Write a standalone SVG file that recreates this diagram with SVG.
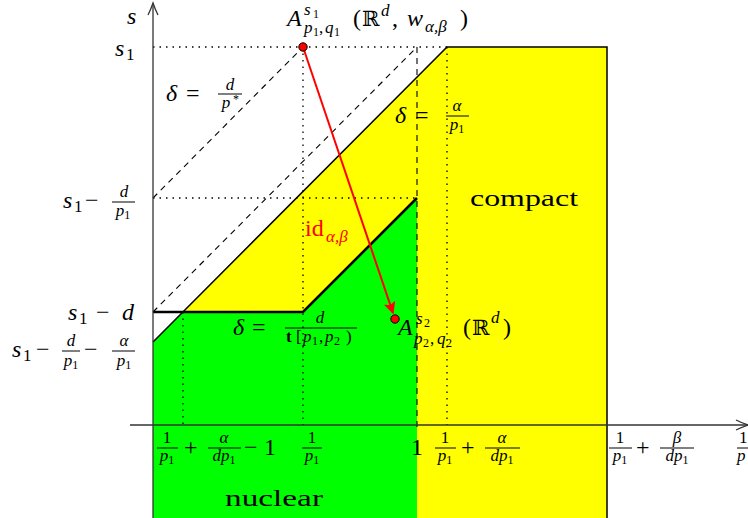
<svg xmlns="http://www.w3.org/2000/svg" width="748" height="518" viewBox="0 0 748 518">
<style>
text{font-family:"Liberation Serif","DejaVu Serif",serif;font-size:24px;fill:#000}
.i{font-style:italic}
.s{font-size:17px}
.t{font-size:12px}
.bb{font-family:"DejaVu Serif",serif;font-size:21px}
.red{fill:#f00}
.dot{stroke:#000;stroke-width:1.3;stroke-dasharray:1.5 5;fill:none}
.dash{stroke:#000;stroke-width:1.1;stroke-dasharray:6 5;fill:none}
.fr{stroke:#000;stroke-width:1}
.ax{stroke:#333;stroke-width:1.3;fill:none}
</style>
<defs>
<marker id="ah" viewBox="0 0 10 10" refX="9" refY="5" markerWidth="7" markerHeight="6" orient="auto" markerUnits="strokeWidth">
<path d="M0,0 L10,5 L0,10 L2,5 z" fill="#f00"/>
</marker>
</defs>
<rect width="748" height="518" fill="#fff"/>
<g id="regions">
<polygon points="153,342 447,47 607,47 607,518 153,518" fill="#ff0"/>
<polygon points="153,342 183,312 303,312 417,198 417,518 153,518" fill="#0f0"/>
</g>
<g id="connectors">
<polyline points="153,342 447,47 607,47 607,518" fill="none" stroke="#000" stroke-width="1.5"/>
<polyline points="153,312 303,312 417,198" fill="none" stroke="#000" stroke-width="2.6"/>
<line class="dash" x1="153" y1="312" x2="417" y2="47"/>
<line class="dash" x1="153" y1="198" x2="303" y2="47"/>
<line class="dash" x1="417" y1="47" x2="417" y2="430"/>
<line class="dot" x1="153" y1="47" x2="447" y2="47"/>
<line class="dot" x1="153" y1="198" x2="417" y2="198"/>
<line class="dot" x1="303" y1="47" x2="303" y2="425"/>
<line class="dot" x1="183" y1="312" x2="183" y2="425"/>
<line class="dot" x1="447" y1="47" x2="447" y2="425"/>
<line class="ax" x1="153" y1="518" x2="153" y2="3"/>
<path class="ax" d="M148,15 Q151,9 153,3 Q155,9 158,15"/>
<line class="ax" x1="130" y1="425" x2="748" y2="425"/>
<path class="ax" d="M736,420 Q742,423 748,425 Q742,427 736,430"/>
<line x1="303" y1="47" x2="393" y2="313" stroke="#f00" stroke-width="2" marker-end="url(#ah)"/>
</g>
<g id="pointA1"><circle cx="303" cy="47" r="4.2" fill="#f00" stroke="#000" stroke-width="1"/></g>
<g id="pointA2"><circle cx="395" cy="319" r="4.2" fill="#f00" stroke="#000" stroke-width="1"/></g>

<g id="label-s"><text class="i" x="127" y="24">s</text></g>
<g id="label-s1"><text class="i" x="115" y="56">s</text><text x="126" y="60" class="s">1</text></g>

<g id="label-A1">
<text class="i" x="287" y="26" font-size="26">A</text>
<text class="i s" x="304" y="15">s</text><text class="t" x="313" y="18">1</text>
<text class="i s" x="304" y="33">p</text><text class="t" x="313" y="36">1</text><text class="s" x="319" y="33">,</text>
<text class="i s" x="325" y="33">q</text><text class="t" x="334" y="36">1</text>
<text x="353" y="26">(</text><text class="bb" x="362" y="26">ℝ</text>
<text class="i s" x="381" y="16">d</text>
<text x="392" y="26">,</text>
<text class="i" x="407" y="26">w</text>
<text class="i s" x="425" y="32">α,β</text>
<text x="460" y="26">)</text>
</g>

<g id="label-delta-pstar">
<text class="i" x="166" y="101">δ</text><text x="186" y="101">=</text>
<line class="fr" x1="218" y1="94" x2="242" y2="94"/>
<text class="i s" x="230" y="90" text-anchor="middle">d</text>
<text class="i s" x="226" y="108" text-anchor="middle">p</text><text class="t" x="233" y="103">*</text>
</g>

<g id="label-delta-alpha">
<text class="i" x="395" y="123">δ</text><text x="415" y="123">=</text>
<line class="fr" x1="446" y1="116" x2="469" y2="116"/>
<text class="i s" x="457" y="111" text-anchor="middle">α</text>
<text x="457" y="130" text-anchor="middle"><tspan class="i s">p</tspan><tspan class="t" dy="3">1</tspan></text>
</g>

<g id="label-s1-d-p1">
<text class="i" x="63" y="208">s</text><text class="s" x="74" y="212">1</text>
<text x="85" y="208">−</text>
<line class="fr" x1="112" y1="202" x2="135" y2="202"/>
<text class="i s" x="124" y="197" text-anchor="middle">d</text>
<text x="123" y="216" text-anchor="middle"><tspan class="i s">p</tspan><tspan class="t" dy="3">1</tspan></text>
</g>

<g id="label-s1-d">
<text class="i" x="68" y="320">s</text><text class="s" x="79" y="324">1</text>
<text x="96" y="320">−</text>
<text class="i" x="122" y="320">d</text>
</g>

<g id="label-s1-d-p1-a-p1">
<text class="i" x="12" y="357">s</text><text class="s" x="23" y="361">1</text>
<text x="36" y="357">−</text>
<line class="fr" x1="62" y1="351" x2="80" y2="351"/>
<text class="i s" x="71" y="346" text-anchor="middle">d</text>
<text x="71" y="366" text-anchor="middle"><tspan class="i s">p</tspan><tspan class="t" dy="3">1</tspan></text>
<text x="84" y="357">−</text>
<line class="fr" x1="112" y1="351" x2="135" y2="351"/>
<text class="i s" x="124" y="346" text-anchor="middle">α</text>
<text x="124" y="366" text-anchor="middle"><tspan class="i s">p</tspan><tspan class="t" dy="3">1</tspan></text>
</g>

<g id="label-compact"><text x="470" y="206" font-size="27" textLength="108" lengthAdjust="spacingAndGlyphs">compact</text></g>
<g id="label-nuclear"><text x="225" y="506" font-size="27" textLength="98" lengthAdjust="spacingAndGlyphs">nuclear</text></g>

<g id="label-id">
<text class="red" x="305" y="236">id</text>
<text class="i s red" x="326" y="242">α,β</text>
</g>

<g id="label-delta-t">
<text class="i" x="233" y="335">δ</text><text x="252" y="335">=</text>
<line class="fr" x1="285" y1="328" x2="357" y2="328"/>
<text class="i s" x="320" y="323" text-anchor="middle">d</text>
<text class="s" x="286" y="342" font-weight="bold">t</text>
<text class="s" x="296" y="342">[</text>
<text class="i s" x="303" y="342">p</text><text class="t" x="312" y="345">1</text>
<text class="s" x="319" y="342">,</text>
<text class="i s" x="325" y="342">p</text><text class="t" x="334" y="345">2</text>
<text class="s" x="346" y="342">)</text>
</g>

<g id="label-A2">
<text class="i" x="398" y="335" font-size="26">A</text>
<text class="i s" x="416" y="324">s</text><text class="t" x="424" y="327">2</text>
<text class="i s" x="414" y="344">p</text><text class="t" x="423" y="347">2</text><text class="s" x="430" y="344">,</text>
<text class="i s" x="437" y="344">q</text><text class="t" x="446" y="347">2</text>
<text x="463" y="335">(</text><text class="bb" x="472" y="335">ℝ</text>
<text class="i s" x="491" y="323">d</text>
<text x="503" y="335">)</text>
</g>

<g id="xlabels">
<line class="fr" x1="157" y1="448" x2="178" y2="448"/>
<text class="s" x="167" y="443" text-anchor="middle">1</text>
<text x="167" y="461" text-anchor="middle"><tspan class="i s">p</tspan><tspan class="t" dy="3">1</tspan></text>
<text x="184" y="455">+</text>
<line class="fr" x1="208" y1="448" x2="241" y2="448"/>
<text class="i s" x="224" y="443" text-anchor="middle">α</text>
<text x="224" y="461" text-anchor="middle"><tspan class="i s">dp</tspan><tspan class="t" dy="3">1</tspan></text>
<text x="244" y="455">−</text><text x="264" y="455">1</text>

<line class="fr" x1="302" y1="448" x2="322" y2="448"/>
<text class="s" x="312" y="443" text-anchor="middle">1</text>
<text x="312" y="461" text-anchor="middle"><tspan class="i s">p</tspan><tspan class="t" dy="3">1</tspan></text>

<text x="411" y="455">1</text>

<line class="fr" x1="435" y1="448" x2="456" y2="448"/>
<text class="s" x="445" y="443" text-anchor="middle">1</text>
<text x="445" y="461" text-anchor="middle"><tspan class="i s">p</tspan><tspan class="t" dy="3">1</tspan></text>
<text x="461" y="455">+</text>
<line class="fr" x1="485" y1="448" x2="520" y2="448"/>
<text class="i s" x="502" y="443" text-anchor="middle">α</text>
<text x="502" y="461" text-anchor="middle"><tspan class="i s">dp</tspan><tspan class="t" dy="3">1</tspan></text>

<line class="fr" x1="609" y1="448" x2="632" y2="448"/>
<text class="s" x="620" y="443" text-anchor="middle">1</text>
<text x="620" y="461" text-anchor="middle"><tspan class="i s">p</tspan><tspan class="t" dy="3">1</tspan></text>
<text x="636" y="455">+</text>
<line class="fr" x1="660" y1="448" x2="694" y2="448"/>
<text class="i s" x="677" y="443" text-anchor="middle">β</text>
<text x="677" y="461" text-anchor="middle"><tspan class="i s">dp</tspan><tspan class="t" dy="3">1</tspan></text>

<line class="fr" x1="737" y1="448" x2="748" y2="448"/>
<text class="s" x="739" y="443">1</text>
<text class="i s" x="737" y="461">p</text>
</g>
</svg>
